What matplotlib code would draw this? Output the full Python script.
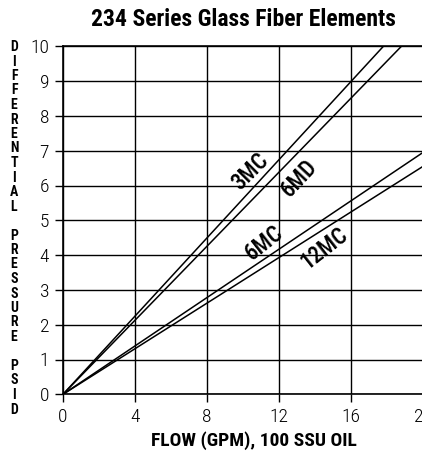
import matplotlib
matplotlib.use("Agg")
import matplotlib.pyplot as plt

plt.rcParams['font.family'] = ['Roboto Condensed', 'DejaVu Sans']

title = "234 Series Glass Fiber Elements"
xlabel = "FLOW (GPM), 100 SSU OIL"
ylabel = "DIFFERENTIAL PRESSURE PSID"
xticks = [0, 4, 8, 12, 16, 20]
yticks = list(range(0, 11))

flow_3MC = [0, 17.8]
dp_3MC = [0, 10.0]
flow_6MD = [0, 18.8]
dp_6MD = [0, 10.0]
flow_6MC = [0, 20]
dp_6MC = [0, 6.95]
flow_12MC = [0, 20]
dp_12MC = [0, 6.55]

label_pos = {"3MC": (10.4, 6.4, 45), "6MD": (13.1, 6.2, 47),
             "6MC": (11.15, 4.35, 38), "12MC": (14.5, 4.2, 38)}

fig = plt.figure(figsize=(4.22, 4.57), dpi=100)
ax = fig.add_axes([63/422, (457-394.3)/457, 360/422, 348/457])
ax.set_xlim(0, 20)
ax.set_ylim(0, 10)
ax.set_xticks(xticks)
ax.set_yticks(yticks)
ax.set_xticklabels([str(t) for t in xticks], fontsize=14, fontweight='light')
ax.set_yticklabels([str(t) for t in yticks], fontsize=14, fontweight='light')
ax.tick_params(axis='both', direction='out', length=6, width=1, colors='black', pad=4)
ax.grid(True, color='black', linewidth=1)
for s in ax.spines.values():
    s.set_color('black'); s.set_linewidth(1.2)

for name, fx, dy in [("3MC", flow_3MC, dp_3MC), ("6MD", flow_6MD, dp_6MD),
                     ("6MC", flow_6MC, dp_6MC), ("12MC", flow_12MC, dp_12MC)]:
    ax.plot(fx, dy, color='black', linewidth=1.1, clip_on=True)
    x, y, r = label_pos[name]
    ax.text(x, y, name, rotation=r, ha='center', va='center', fontsize=16.5,
            fontweight='medium', rotation_mode='anchor')

fig.text(243/422, 1 - 19/457, title, ha='center', va='center', fontsize=17, fontweight='bold')
fig.text(254/422, 1 - 441/457, xlabel, ha='center', va='center', fontsize=14, fontweight='bold')

y0, step = 47, 14.5
for i, ch in enumerate(ylabel):
    if ch == ' ':
        continue
    fig.text(14/422, 1 - (y0 + i*step)/457, ch, ha='center', va='center', fontsize=10, fontweight='bold')

fig.savefig("out.png", dpi=100)
